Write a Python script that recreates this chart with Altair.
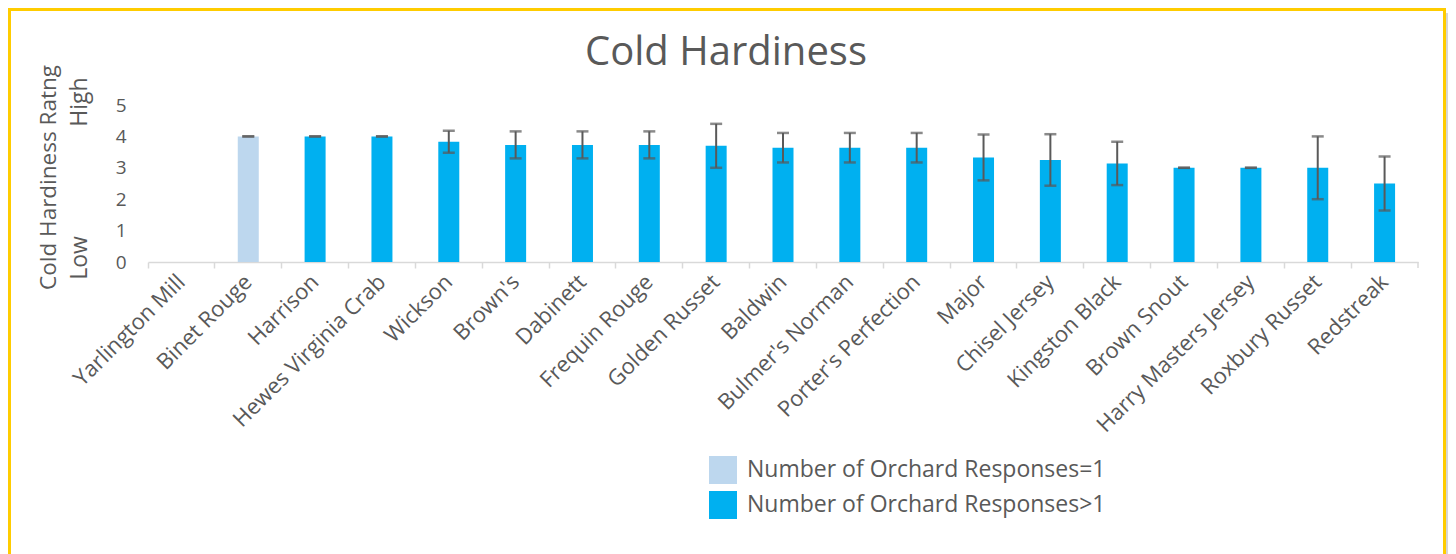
import altair as alt
import pandas as pd

cultivars = ["Yarlington Mill", "Binet Rouge", "Harrison", "Hewes Virginia Crab", "Wickson",
             "Brown's", "Dabinett", "Frequin Rouge", "Golden Russet", "Baldwin",
             "Bulmer's Norman", "Porter's Perfection", "Major", "Chisel Jersey",
             "Kingston Black", "Brown Snout", "Harry Masters Jersey", "Roxbury Russet", "Redstreak"]
ratings = [0, 4, 4, 4, 3.83, 3.73, 3.73, 3.73, 3.7, 3.64, 3.64, 3.64, 3.33, 3.25, 3.14, 3, 3, 3, 2.5]
errors = [None, 0, 0, 0, 0.35, 0.43, 0.43, 0.43, 0.7, 0.47, 0.47, 0.47, 0.73, 0.82, 0.69, 0, 0, 1.0, 0.86]
y_ticks = [0, 1, 2, 3, 4, 5]
G1 = "Number of Orchard Responses=1"
G2 = "Number of Orchard Responses>1"
groups = [G2, G1] + [G2] * 17

df = pd.DataFrame({"cultivar": cultivars, "rating": ratings, "err": errors, "group": groups})

FONT = "Open Sans"
TXT = "#595959"
W, H = 1270, 157

xaxis = alt.Axis(labelAngle=-45, labelAlign="right", labelBaseline="middle",
                 labelFontSize=22, labelFont=FONT, labelColor=TXT, labelPadding=10,
                 labelLimit=0, labelOverlap=False, title=None,
                 bandPosition=0, tickColor="#d9d9d9", tickWidth=1.5, tickSize=6,
                 domainColor="#d9d9d9", domainWidth=1.5, grid=False)
yaxis = alt.Axis(values=y_ticks, grid=False, domain=False, ticks=False,
                 labelOverlap=False,
                 labelFontSize=19, labelFont=FONT, labelColor=TXT, labelPadding=22,
                 title="Cold Hardiness Ratng", titleFont=FONT, titleFontSize=22.5,
                 titleFontWeight="normal", titleColor=TXT, titleX=-100, titleY=72,
                 titleAngle=270, titleAlign="center", titleBaseline="middle")
xscale = alt.Scale(paddingInner=0, paddingOuter=0)
yscale = alt.Scale(domain=[0, 5])

def X():
    return alt.X("cultivar:N", sort=cultivars, scale=xscale, axis=xaxis)

def Y(field):
    return alt.Y(field, scale=yscale, axis=yaxis)

base = alt.Chart(df)

bars = base.mark_bar(size=21).encode(
    x=X(), y=Y("rating:Q"),
    color=alt.Color("group:N", scale=alt.Scale(domain=[G1, G2], range=["#BDD7EE", "#00B0F0"]),
                    legend=alt.Legend(orient="none", legendX=561, legendY=351, title=None,
                                      symbolType="square", symbolSize=784, symbolStrokeWidth=0,
                                      labelFontSize=23, labelFont=FONT, labelColor=TXT,
                                      labelLimit=0, rowPadding=7, labelOffset=10))
)

errb = base.transform_filter("datum.err != null").transform_calculate(
    lo="datum.rating - datum.err", hi="datum.rating + datum.err")

rule = errb.mark_rule(color="#595959", strokeWidth=2).encode(
    x=X(), y=Y("lo:Q"), y2="hi:Q")
tick_lo = errb.mark_tick(color="#595959", size=12, thickness=2.5).encode(
    x=X(), y=Y("lo:Q"))
tick_hi = errb.mark_tick(color="#595959", size=12, thickness=2.5).encode(
    x=X(), y=Y("hi:Q"))

one = alt.Chart(pd.DataFrame({"k": [0]}))
title_txt = one.mark_text(text="Cold Hardiness", font=FONT, fontSize=40, color=TXT,
                          align="center", baseline="alphabetic").encode(
    x=alt.value(578), y=alt.value(-40))
low_txt = one.mark_text(text="Low", font=FONT, fontSize=23, color=TXT, angle=270,
                        align="center", baseline="middle").encode(x=alt.value(-68), y=alt.value(153))
high_txt = one.mark_text(text="High", font=FONT, fontSize=23, color=TXT, angle=270,
                         align="center", baseline="middle").encode(x=alt.value(-68), y=alt.value(-3))
last_tick = one.mark_rule(color="#d9d9d9", strokeWidth=1.5).encode(
    x=alt.value(W), y=alt.value(H), y2=alt.value(H + 6))
frame = one.mark_rect(fillOpacity=0, stroke="#FFCC00", strokeWidth=3).encode(
    x=alt.value(-138.5), x2=alt.value(1296.5), y=alt.value(-95.5), y2=alt.value(470))
shadow = one.mark_rule(color="#d6d6d6", strokeWidth=2).encode(
    x=alt.value(1299), y=alt.value(-92), y2=alt.value(470))

chart = alt.layer(frame, shadow, bars, rule, tick_lo, tick_hi, title_txt, low_txt, high_txt,
                  last_tick).properties(
    width=W, height=H,
    background="white",
    padding={"left": 140, "top": 97, "right": 30, "bottom": 292},
    autosize=alt.AutoSizeParams(type="none"),
).configure_view(strokeWidth=0, stroke=None)

chart.save("out.html", embed_options={"renderer": "svg", "actions": False})
